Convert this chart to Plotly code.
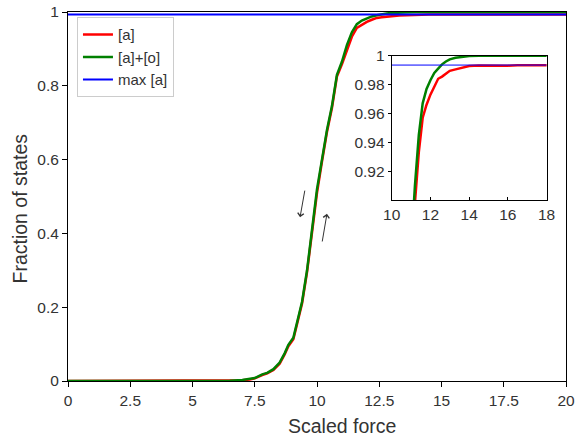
import plotly.graph_objects as go

force = [0, 1, 2, 3, 4, 5, 6, 6.5, 7.0, 7.3, 7.5, 7.8, 8.0, 8.25, 8.5, 8.7, 8.85, 9.05, 9.2,
         9.4, 9.6, 9.8, 10.0, 10.2, 10.4, 10.6, 10.8, 11.0, 11.2, 11.4, 11.6, 11.8, 12.0,
         12.2, 12.4, 12.6, 12.8, 13.0, 13.3, 13.6, 14.0, 14.5, 15.0, 15.5, 16.0, 16.5,
         17.0, 17.5, 18.0, 18.5, 19.0, 19.5, 20.0]

frac_a = [0, 0, 0, 0, 0, 0, 0, 0.0005, 0.002, 0.004, 0.007, 0.016, 0.021, 0.030, 0.047,
          0.072, 0.094, 0.113, 0.155, 0.21, 0.295, 0.40, 0.51, 0.595, 0.675, 0.74, 0.825,
          0.858, 0.898, 0.933, 0.957, 0.966, 0.973, 0.979, 0.984, 0.9855, 0.9875, 0.9895,
          0.9905, 0.9915, 0.9928, 0.9932, 0.9930, 0.9933, 0.9931, 0.9934, 0.9932, 0.9934,
          0.9930, 0.9932, 0.9931, 0.9933, 0.9932]

frac_ao = [0, 0, 0, 0, 0, 0, 0, 0.001, 0.003, 0.005, 0.008, 0.018, 0.022, 0.032, 0.05,
           0.075, 0.098, 0.117, 0.16, 0.215, 0.30, 0.41, 0.52, 0.60, 0.68, 0.745, 0.83,
           0.865, 0.91, 0.945, 0.967, 0.977, 0.983, 0.988, 0.991, 0.994, 0.996, 0.9975,
           0.9985, 0.9992, 0.9997, 1.0, 1.0, 1.0, 1.0, 1.0, 1.0, 1.0, 1.0, 1.0, 1.0, 1.0, 1.0]

max_a = 0.9935

x_ticks = [0, 2.5, 5, 7.5, 10, 12.5, 15, 17.5, 20]
y_ticks = [0, 0.2, 0.4, 0.6, 0.8, 1]
inset_x_ticks = [10, 12, 14, 16, 18]
inset_y_ticks = [0.92, 0.94, 0.96, 0.98, 1]
inset_y_text = ["0.92", "0.94", "0.96", "0.98", "1"]

x_title = "Scaled force"
y_title = "Fraction of states"

RED = "#ff0000"
GREEN = "#008000"
BLUE = "#0000ff"
TXT = "#333333"
TICK = 15.5
TITLE = 19.5

fig = go.Figure()
fig.add_trace(go.Scatter(x=force, y=frac_a, mode="lines", name="[a]",
                         line=dict(color=RED, width=2.5)))
fig.add_trace(go.Scatter(x=force, y=frac_ao, mode="lines", name="[a]+[o]",
                         line=dict(color=GREEN, width=2.5)))
fig.add_trace(go.Scatter(x=[0, 20], y=[max_a, max_a], mode="lines", name="max [a]",
                         line=dict(color=BLUE, width=2)))

# inset
fig.add_trace(go.Scatter(x=force, y=frac_a, mode="lines", showlegend=False,
                         line=dict(color=RED, width=2.5), xaxis="x2", yaxis="y2"))
fig.add_trace(go.Scatter(x=force, y=frac_ao, mode="lines", showlegend=False,
                         line=dict(color=GREEN, width=2.5), xaxis="x2", yaxis="y2"))
fig.add_trace(go.Scatter(x=[10, 18], y=[max_a, max_a], mode="lines", showlegend=False,
                         line=dict(color=BLUE, width=1), xaxis="x2", yaxis="y2"))

axis_common = dict(showline=True, linecolor="black", linewidth=1, mirror=True,
                   showgrid=False, zeroline=False, ticks="outside", ticklen=5,
                   tickcolor="black", tickfont=dict(size=TICK, color=TXT),
                   automargin=False)

fig.update_layout(
    template="none",
    width=582, height=437,
    margin=dict(l=68, r=16, t=12, b=56, autoexpand=False),
    paper_bgcolor="white", plot_bgcolor="white",
    font=dict(family="Liberation Sans, Arial, sans-serif", color=TXT),
    xaxis=dict(range=[0, 20], tickvals=x_ticks, **axis_common),
    yaxis=dict(range=[0, 1], tickvals=y_ticks, **axis_common),
    xaxis2=dict(domain=[0.650, 0.961], anchor="y2", range=[10, 18],
                tickvals=inset_x_ticks, showline=True, linecolor="black", linewidth=1,
                mirror=True, showgrid=False, zeroline=False, ticks="inside", ticklen=3,
                tickcolor="black", tickfont=dict(size=TICK, color=TXT), automargin=False),
    yaxis2=dict(domain=[0.4905, 0.8816], anchor="x2", range=[0.9, 1],
                tickvals=inset_y_ticks, ticktext=inset_y_text, showline=True,
                linecolor="black", linewidth=1, mirror=True, showgrid=False,
                zeroline=False, ticks="outside", ticklen=3, tickcolor="black",
                tickfont=dict(size=TICK, color=TXT), automargin=False),
    legend=dict(x=0.018, y=0.986, xanchor="left", yanchor="top",
                bordercolor="#cccccc", borderwidth=1, bgcolor="white",
                font=dict(size=15, color=TXT), itemwidth=30, tracegroupgap=0),
    showlegend=True,
)

# axis titles (placed as in the reference, slightly off-centre)
fig.add_annotation(text=x_title, xref="paper", yref="paper", x=0.55, y=-0.122,
                   xanchor="center", yanchor="middle", showarrow=False,
                   font=dict(size=TITLE, color=TXT))
fig.add_annotation(text=y_title, xref="paper", yref="paper", x=-0.0964, y=0.4675,
                   xanchor="center", yanchor="middle", showarrow=False, textangle=-90,
                   font=dict(size=TITLE, color=TXT))

fig.add_annotation(x=9.32, y=0.444, ax=9.52, ay=0.520, xref="x", yref="y",
                   axref="x", ayref="y", showarrow=True, arrowhead=4, arrowsize=1.2,
                   arrowwidth=1, arrowcolor=TXT, text="")
fig.add_annotation(x=10.40, y=0.453, ax=10.20, ay=0.374, xref="x", yref="y",
                   axref="x", ayref="y", showarrow=True, arrowhead=4, arrowsize=1.2,
                   arrowwidth=1, arrowcolor=TXT, text="")

fig.write_html("out.html")
